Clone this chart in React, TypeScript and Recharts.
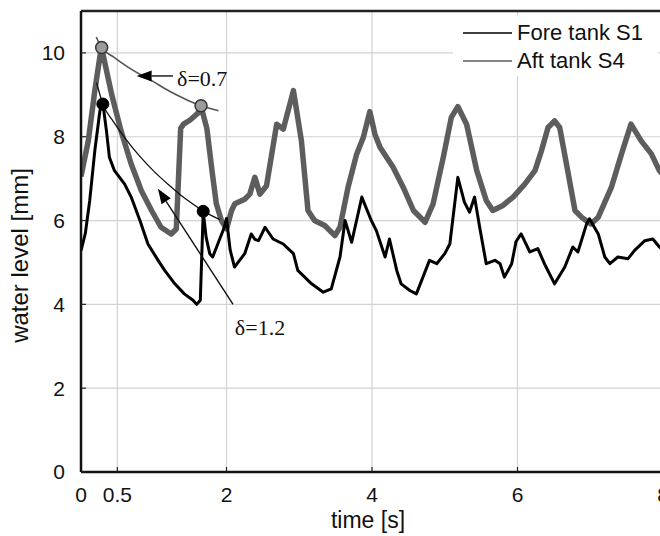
import React from "react";
import {
  LineChart,
  Line,
  XAxis,
  YAxis,
  CartesianGrid,
  ReferenceDot,
  ReferenceLine,
  Legend,
} from "recharts";

// Fore tank S1 (black trace)
const FORE_T = [
  0, 0.06, 0.12, 0.19, 0.26, 0.3, 0.35, 0.39, 0.46, 0.6, 0.69, 0.81, 0.92, 1.06, 1.15, 1.29, 1.42, 1.54,
  1.59, 1.64, 1.68, 1.72, 1.77, 1.81, 1.88, 1.97, 2.0, 2.05, 2.11, 2.25, 2.34, 2.39, 2.44, 2.53, 2.64,
  2.78, 2.92, 2.98, 3.17, 3.33, 3.44, 3.56, 3.63, 3.72, 3.86, 3.99, 4.06, 4.18, 4.24, 4.34, 4.4, 4.52,
  4.61, 4.7, 4.79, 4.89, 5.0, 5.07, 5.18, 5.27, 5.34, 5.41, 5.48, 5.57, 5.69, 5.76, 5.82, 5.92, 5.98,
  6.05, 6.17, 6.28, 6.37, 6.51, 6.65, 6.76, 6.83, 6.95, 6.99, 7.11, 7.2, 7.27, 7.38, 7.52, 7.61, 7.75,
  7.86, 7.95, 8.0,
];
const FORE_V = [
  5.28, 5.7, 6.48, 7.67, 8.62, 8.8, 8.14, 7.51, 7.19, 6.87, 6.56, 6.0, 5.44, 5.05, 4.81, 4.49, 4.25, 4.1,
  4.0, 4.1, 6.22, 5.6, 5.21, 5.13, 5.44, 5.84, 6.05, 5.3, 4.89, 5.21, 5.68, 5.55, 5.52, 5.84, 5.56,
  5.44, 5.21, 4.81, 4.49, 4.29, 4.37, 5.13, 6.0, 5.48, 6.56, 6.0, 5.76, 5.13, 5.56, 4.81, 4.49, 4.33,
  4.25, 4.65, 5.05, 4.97, 5.21, 5.44, 7.03, 6.44, 6.2, 6.56, 5.84, 4.97, 5.05, 4.97, 4.65, 4.97, 5.5,
  5.68, 5.25, 5.33, 4.97, 4.49, 4.89, 5.37, 5.25, 5.92, 6.04, 5.68, 5.13, 4.97, 5.13, 5.09, 5.29, 5.52,
  5.56, 5.37, 5.3,
];

// Aft tank S4 (grey trace)
const AFT_T = [
  0, 0.1, 0.19, 0.28, 0.42, 0.55, 0.69, 0.83, 0.97, 1.1, 1.24, 1.31, 1.37, 1.41, 1.5, 1.6, 1.65, 1.73,
  1.8, 1.86, 1.93, 2.0, 2.07, 2.115, 2.25, 2.32, 2.39, 2.46, 2.55, 2.69, 2.78, 2.92, 3.03, 3.12, 3.21,
  3.35, 3.49, 3.56, 3.67, 3.79, 3.88, 3.97, 4.04, 4.11, 4.29, 4.43, 4.57, 4.73, 4.84, 4.98, 5.09, 5.18,
  5.3, 5.44, 5.57, 5.66, 5.8, 5.94, 6.1, 6.24, 6.33, 6.42, 6.51, 6.58, 6.69, 6.79, 6.88, 7.01, 7.11,
  7.29, 7.43, 7.56, 7.7, 7.84, 7.95, 8.0,
];
const AFT_V = [
  7.05, 7.9, 9.1, 10.15, 9.02, 8.14, 7.35, 6.71, 6.24, 5.84, 5.68, 5.8, 8.2, 8.3, 8.4, 8.55, 8.72, 8.2,
  7.2, 6.4, 6.0, 5.8, 6.24, 6.4, 6.51, 6.63, 7.03, 6.63, 6.83, 8.3, 8.18, 9.1, 7.9, 6.24, 6.0,
  5.88, 5.64, 5.84, 6.79, 7.59, 7.98, 8.6, 8.06, 7.75, 7.27, 6.79, 6.24, 5.96, 6.4, 7.51, 8.46, 8.72,
  8.3, 7.19, 6.48, 6.24, 6.36, 6.56, 6.87, 7.19, 7.67, 8.22, 8.38, 8.22, 7.19, 6.24, 6.08, 5.92, 6.08,
  6.79, 7.59, 8.3, 7.9, 7.59, 7.19, 7.1,
];

// decay envelopes drawn through the marked peaks
const D07_T = [0.21, 0.28, 0.45, 0.63, 0.85, 0.99, 1.15, 1.31, 1.48, 1.65, 1.89];
const D07_V = [10.38, 10.13, 9.9, 9.68, 9.45, 9.32, 9.15, 9.0, 8.86, 8.74, 8.62];
const D12_T = [0.215, 0.3, 0.45, 0.6, 0.8, 1.0, 1.2, 1.45, 1.69, 1.91];
const D12_V = [9.29, 8.78, 8.35, 7.98, 7.55, 7.18, 6.86, 6.5, 6.22, 6.02];

const AFT_PEAKS = [
  { t: 0.284, v: 10.13 },
  { t: 1.65, v: 8.74 },
];
const FORE_PEAKS = [
  { t: 0.3, v: 8.78 },
  { t: 1.68, v: 6.22 },
];

// arrows: tail -> tip, and text anchor (left edge, vertical centre)
const ARROWS = [
  { label: "δ=0.7", tail: [1.264, 9.45], tip: [0.765, 9.45], text: [1.32, 9.4] },
  { label: "δ=1.2", tail: [2.09, 4.0], tip: [1.058, 6.76], text: [2.115, 3.45] },
];

const LEGEND_ORDER = ["Fore tank S1", "Aft tank S4"];
const X_TICKS = [0, 0.5, 2, 4, 6, 8];
const Y_TICKS = [0, 2, 4, 6, 8, 10];

const SANS = '"Liberation Sans", Arial, sans-serif';
const SERIF = '"Liberation Serif", "Times New Roman", serif';
const GREY = "#5d5d5d";

const zip = (ts: number[], vs: number[]) => ts.map((t, i) => ({ t, v: vs[i] }));

const foreData = zip(FORE_T, FORE_V);
const aftData = zip(AFT_T, AFT_V);
const d07Data = zip(D07_T, D07_V);
const d12Data = zip(D12_T, D12_V);

function ArrowShape(props: any) {
  const { x1, y1, x2, y2 } = props;
  const ang = Math.atan2(y2 - y1, x2 - x1);
  const L = 15;
  const W = 5.5;
  const bx = x2 - L * Math.cos(ang);
  const by = y2 - L * Math.sin(ang);
  const pts = [
    [x2, y2],
    [bx + W * Math.sin(ang), by - W * Math.cos(ang)],
    [bx - W * Math.sin(ang), by + W * Math.cos(ang)],
  ]
    .map((p) => p.join(","))
    .join(" ");
  return (
    <g>
      <line x1={x1} y1={y1} x2={bx} y2={by} stroke="#111" strokeWidth={1.4} />
      <polygon points={pts} fill="#000" />
    </g>
  );
}

function renderLegend(props: any) {
  const items = (props.payload || [])
    .filter((p: any) => LEGEND_ORDER.includes(p.value))
    .sort((a: any, b: any) => LEGEND_ORDER.indexOf(a.value) - LEGEND_ORDER.indexOf(b.value));
  return (
    <div style={{ background: "#fff", padding: "4px 6px 1px 10px" }}>
      {items.map((item: any) => (
        <div key={item.value} style={{ display: "flex", alignItems: "center", height: 28 }}>
          <svg width={49} height={4} style={{ marginRight: 5 }}>
            <line x1={0} y1={2} x2={49} y2={2} stroke={item.color} strokeWidth={1.5} />
          </svg>
          <span style={{ fontFamily: SANS, fontSize: 22, color: "#111", lineHeight: "28px" }}>
            {item.value}
          </span>
        </div>
      ))}
    </div>
  );
}

export default function App() {
  return (
    <div
      style={{
        position: "fixed",
        top: 0,
        left: 0,
        width: 660,
        height: 536,
        overflow: "hidden",
        background: "#fff",
      }}
    >
      <LineChart width={680} height={536} margin={{ top: 11, right: 17, bottom: 0, left: 0 }}>
        <CartesianGrid stroke="#d2d2d2" strokeWidth={1.2} />
        <XAxis
          type="number"
          dataKey="t"
          domain={[0, 8]}
          ticks={X_TICKS}
          height={64}
          allowDataOverflow
          tickSize={-5}
          tickMargin={20}
          axisLine={{ stroke: "#111", strokeWidth: 2.5 }}
          tickLine={{ stroke: "#222", strokeWidth: 1.2 }}
          tick={{ fill: "#111", fontSize: 21, fontFamily: SANS }}
          label={{
            content: (p: any) => (
              <text
                x={p.viewBox.x + p.viewBox.width / 2 - 4}
                y={528}
                textAnchor="middle"
                fontFamily={SANS}
                fontSize={23}
                fill="#111"
              >
                time [s]
              </text>
            ),
          }}
        />
        <YAxis
          type="number"
          domain={[0, 11]}
          ticks={Y_TICKS}
          width={81}
          allowDataOverflow
          tickSize={-5}
          tickMargin={21}
          axisLine={{ stroke: "#111", strokeWidth: 2.5 }}
          tickLine={{ stroke: "#222", strokeWidth: 1.2 }}
          tick={{ fill: "#111", fontSize: 21, fontFamily: SANS }}
          label={{
            content: (p: any) => {
              const cx = p.viewBox.x + 20;
              const cy = p.viewBox.y + p.viewBox.height / 2 + 14;
              return (
                <text
                  x={cx}
                  y={cy}
                  dy="0.35em"
                  transform={`rotate(-90 ${cx} ${cy})`}
                  textAnchor="middle"
                  fontFamily={SANS}
                  fontSize={24}
                  fill="#111"
                >
                  water level [mm]
                </text>
              );
            },
          }}
        />
        <ReferenceLine y={11} stroke="#222" strokeWidth={2.5} />

        <Line
          data={aftData}
          dataKey="v"
          name="Aft tank S4"
          type="linear"
          stroke={GREY}
          strokeWidth={5.5}
          strokeLinejoin="round"
          dot={false}
          isAnimationActive={false}
        />
        <Line
          data={foreData}
          dataKey="v"
          name="Fore tank S1"
          type="linear"
          stroke="#000"
          strokeWidth={3}
          strokeLinejoin="round"
          dot={false}
          isAnimationActive={false}
        />
        <Line
          data={d07Data}
          dataKey="v"
          name="d07"
          legendType="none"
          type="monotone"
          stroke="#555"
          strokeWidth={1.6}
          dot={false}
          isAnimationActive={false}
        />
        <Line
          data={d12Data}
          dataKey="v"
          name="d12"
          legendType="none"
          type="monotone"
          stroke="#111"
          strokeWidth={1.3}
          dot={false}
          isAnimationActive={false}
        />

        {AFT_PEAKS.map((p, i) => (
          <ReferenceDot key={"a" + i} x={p.t} y={p.v} r={6} fill="#9b9b9b" stroke="#333" strokeWidth={1.5} />
        ))}
        {FORE_PEAKS.map((p, i) => (
          <ReferenceDot key={"f" + i} x={p.t} y={p.v} r={6} fill="#000" stroke="#000" strokeWidth={1} />
        ))}

        {ARROWS.map((a) => (
          <ReferenceLine
            key={a.label}
            segment={[
              { x: a.tail[0], y: a.tail[1] },
              { x: a.tip[0], y: a.tip[1] },
            ]}
            shape={ArrowShape}
          />
        ))}
        {ARROWS.map((a) => (
          <ReferenceDot
            key={a.label + "t"}
            x={a.text[0]}
            y={a.text[1]}
            r={0}
            shape={(p: any) => (
              <text x={p.cx} y={p.cy} dy="0.35em" fontFamily={SERIF} fontSize={22} fill="#111">
                {a.label}
              </text>
            )}
          />
        ))}

        <Legend
          layout="vertical"
          align="center"
          verticalAlign="middle"
          wrapperStyle={{ top: 15, left: 453, width: 205 }}
          content={renderLegend}
        />
      </LineChart>
    </div>
  );
}
